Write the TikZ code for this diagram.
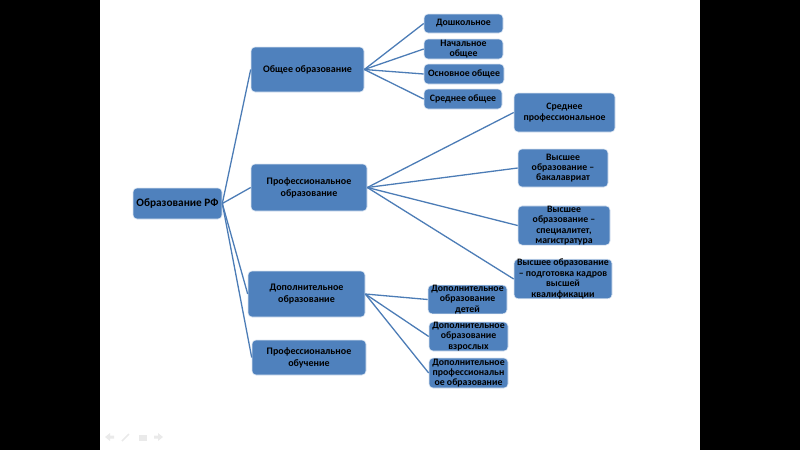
\documentclass[tikz,border=0pt]{standalone}
\usepackage{fontspec}
\setmainfont{Carlito}
\definecolor{boxblue}{HTML}{4F81BD}
\definecolor{lineblue}{HTML}{4C7CB6}
\definecolor{iconGray}{HTML}{EAEAEA}
\tikzset{
  box/.style={draw=white!80!boxblue, line width=0.6pt, fill=boxblue, rounded corners=4pt,
    align=center, text=black, inner sep=0pt},
  lvla/.style={box, font=\fontsize{11.3}{12.5}\selectfont\bfseries},
  lvlb/.style={box, font=\fontsize{10}{12}\selectfont\bfseries},
  lvlc/.style={box, font=\fontsize{9.8}{10.4}\selectfont\bfseries},
  conn/.style={draw=lineblue, line width=1.3pt},
}
\newcommand{\bx}[7]{% name style x1 y1 x2 y2 text
  \node[#2, minimum width={#5-#3}, minimum height={#6-#4}]
    (#1) at ({(#3+#5)/2},{(#4+#6)/2}) {#7};}
\begin{document}
\begin{tikzpicture}[x=1pt,y=-1pt]
\useasboundingbox (0,0) rectangle (800,450);
\fill[black] (0,0) rectangle (100,450);
\fill[black] (700,0) rectangle (800,450);
% faint slideshow icons
\fill[iconGray] (105,437) -- (110,433) -- (110,435.5) -- (114,435.5) -- (114,438.5) -- (110,438.5) -- (110,441) -- cycle;
\draw[iconGray, line width=1.5pt] (122,441) -- (129,434);
\fill[iconGray] (139,435) rectangle (147,441);
\fill[iconGray] (163,437) -- (158,433) -- (158,435.5) -- (154,435.5) -- (154,438.5) -- (158,438.5) -- (158,441) -- cycle;

% level 0
\bx{root}{lvla}{133}{188}{222}{219}{Образование РФ}
% level 1
\bx{gen}{lvlb}{251}{47}{364}{92}{Общее образование}
\bx{prof}{lvlb}{251}{164}{367}{211}{Профессиональное\\образование}
\bx{dop}{lvlb}{248}{271}{365}{317}{Дополнительное\\образование}
\bx{pob}{lvlb}{252}{340}{366}{375}{Профессиональное\\обучение}
% level 2 general
\bx{g1}{lvlc}{424}{14}{503}{33}{Дошкольное}
\bx{g2}{lvlc}{424}{39}{503}{59}{Начальное\\общее}
\bx{g3}{lvlc}{424}{64}{504}{84}{Основное общее}
\bx{g4}{lvlc}{424}{89}{502}{109}{Среднее общее}
% level 2 professional
\bx{p1}{lvlc}{514}{93}{615}{132}{Среднее\\профессиональное}
\bx{p2}{lvlc}{518}{149}{608}{187}{Высшее\\образование –\\бакалавриат}
\bx{p3}{lvlc}{518}{208}{610}{243}{Высшее\\образование –\\специалитет,\\магистратура}
\bx{p4}{lvlc}{514}{260}{612}{298}{Высшее образование\\– подготовка кадров\\высшей\\квалификации}
% level 2 additional
\bx{d1}{lvlc}{428}{286}{507}{313}{Дополнительное\\образование\\детей}
\bx{d2}{lvlc}{429}{322}{508}{351}{Дополнительное\\образование\\взрослых}
\bx{d3}{lvlc}{429}{358}{508}{388}{Дополнительное\\профессиональн\\ое образование}

% connectors
\foreach \t in {gen,prof,dop,pob} \draw[conn] (root.east) -- (\t.west);
\foreach \t in {g1,g2,g3,g4} \draw[conn] (gen.east) -- (\t.west);
\foreach \t in {p1,p2,p3,p4} \draw[conn] (prof.east) -- (\t.west);
\foreach \t in {d1,d2,d3} \draw[conn] (dop.east) -- (\t.west);
\end{tikzpicture}
\end{document}
